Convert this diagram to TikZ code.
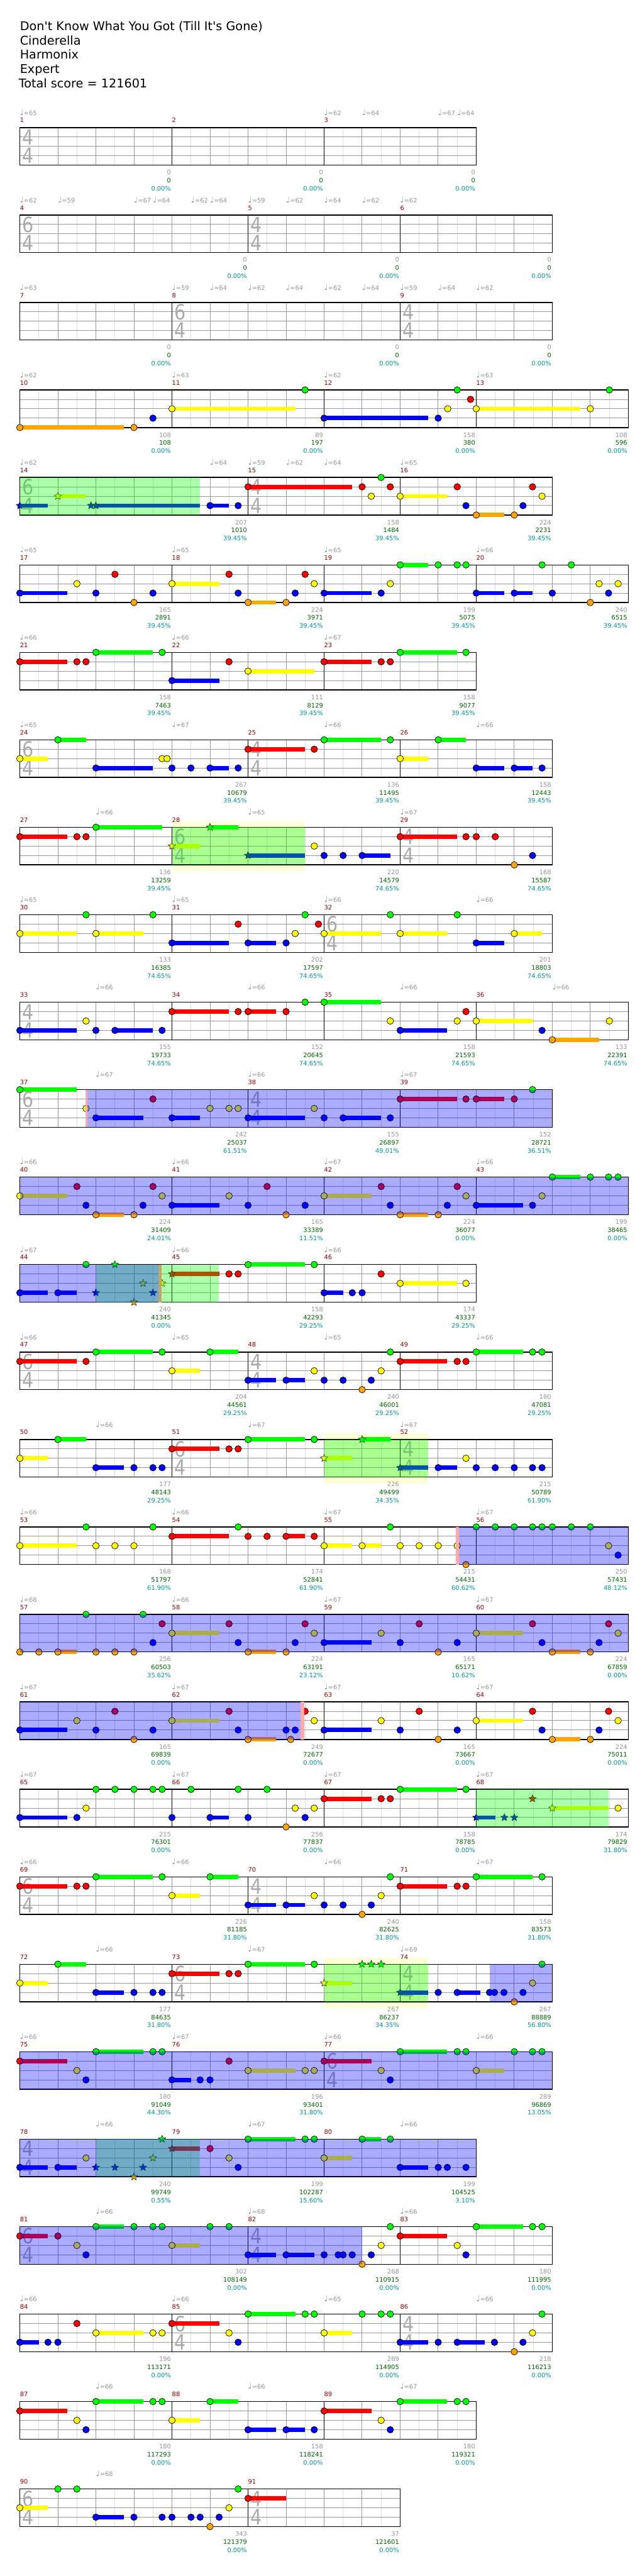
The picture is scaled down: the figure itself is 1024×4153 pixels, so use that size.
\documentclass[tikz,border=0pt]{standalone}
\usepackage{fontspec}
\setmainfont{DejaVu Sans}
\newfontfamily\dvs{DejaVu Sans}
\usetikzlibrary{shapes.geometric}
\definecolor{lane0}{RGB}{0,255,0}
\definecolor{lane1}{RGB}{255,0,0}
\definecolor{lane2}{RGB}{255,255,0}
\definecolor{lane3}{RGB}{0,0,255}
\definecolor{lane4}{RGB}{255,165,0}
\definecolor{halfc}{RGB}{221,221,221}
\definecolor{beatc}{RGB}{153,153,153}
\definecolor{tsgrey}{RGB}{170,170,170}
\definecolor{tempoc}{RGB}{150,150,150}
\definecolor{mred}{RGB}{150,0,0}
\definecolor{scgrey}{RGB}{150,150,150}
\definecolor{scgreen}{RGB}{0,100,0}
\definecolor{scteal}{RGB}{0,150,150}
\definecolor{paleyc}{RGB}{255,255,215}
\definecolor{pinkc}{RGB}{255,170,170}
\definecolor{tanc}{RGB}{200,162,105}
\tikzset{
  halfline/.style={draw=halfc,line width=1pt},
  beatline/.style={draw=beatc,line width=1pt},
  measline/.style={draw=black,line width=1pt},
  border/.style={draw=black,line width=1.4pt},
  notec/.style={draw=black,line width=0.7pt},
  starn/.style={star,star points=5,star point ratio=2.2,minimum size=12.5pt,inner sep=0pt,draw=black,line width=0.5pt},
  mnum/.style={anchor=base west,inner sep=0pt,text=mred,font=\dvs\fontsize{10}{10}\selectfont},
  tmp/.style={anchor=base west,inner sep=0pt,text=tempoc,font=\dvs\fontsize{10}{10}\selectfont},
  sca/.style={anchor=base east,inner sep=0pt,text=scgrey,font=\dvs\fontsize{10}{10}\selectfont},
  scb/.style={anchor=base east,inner sep=0pt,text=scgreen,font=\dvs\fontsize{10}{10}\selectfont},
  scc/.style={anchor=base east,inner sep=0pt,text=scteal,font=\dvs\fontsize{10}{10}\selectfont},
  tsd/.style={anchor=center,inner sep=0pt,text=tsgrey,font=\dvs\fontsize{34}{34}\selectfont},
  hdr/.style={anchor=base west,inner sep=0pt,font=\dvs\fontsize{19.5}{23}\selectfont}
}
\newcommand{\X}[1]{32+61.33333*(#1)}
\newcommand{\setrow}[1]{\pgfmathsetmacro{\T}{205.7+141*(#1-1)}}
\newcommand{\mystaff}[2]{%
  \pgfmathtruncatemacro{\nh}{2*#1-1}%
  \foreach \i in {1,...,\nh}{\draw[halfline] ({32+30.666667*\i},\T) -- ({32+30.666667*\i},{\T+60.6});}%
  \pgfmathtruncatemacro{\nb}{#1-1}%
  \foreach \i in {1,...,\nb}{\draw[beatline] ({\X{\i}},\T) -- ({\X{\i}},{\T+60.6});}%
  \foreach \l in {1,2,3}{\draw[beatline] (32,{\T+15.15*\l}) -- ({\X{#1}},{\T+15.15*\l});}%
  \foreach \m in {#2}{\draw[measline] ({\X{\m}},\T) -- ({\X{\m}},{\T+60.6});}%
  \draw[border] (32,\T) rectangle ({\X{#1}},{\T+60.6});%
}
\newcommand{\mytsig}[3]{%
  \node[tsd] at ({\X{#1}+13.5},{\T+15.5}) {\scalebox{0.85}[1]{#2}};%
  \node[tsd] at ({\X{#1}+13.5},{\T+45.3}) {\scalebox{0.85}[1]{#3}};%
}
\newcommand{\mynotes}[1]{%
  \foreach \b/\l/\e in {#1}{\pgfmathtruncatemacro{\hs}{\e>\b}\ifnum\hs=1 \fill[lane\l] ({\X{\b}},{\T+15.15*\l-3.5}) rectangle ({\X{\e}},{\T+15.15*\l+3.5});\fi}%
  \foreach \b/\l/\e in {#1}{\draw[notec,fill=lane\l] ({\X{\b}},{\T+15.15*\l}) circle[radius=5.3pt];}%
}
\newcommand{\mystars}[1]{%
  \foreach \b/\l/\e in {#1}{\pgfmathtruncatemacro{\hs}{\e>\b}\ifnum\hs=1 \fill[lane\l] ({\X{\b}},{\T+15.15*\l-3.5}) rectangle ({\X{\e}},{\T+15.15*\l+3.5});\fi}%
  \foreach \b/\l/\e in {#1}{\node[starn,fill=lane\l] at ({\X{\b}},{\T+15.15*\l}) {};}%
}
\newcommand{\ovb}[2]{\fill[blue,opacity=0.33] ({\X{#1}},\T) rectangle ({\X{#2}},{\T+60.6});}
\newcommand{\ovg}[2]{\fill[green,opacity=0.33] ({\X{#1}},\T) rectangle ({\X{#2}},{\T+60.6});}
\newcommand{\paley}[2]{\fill[paleyc] ({\X{#1}},{\T-10}) rectangle ({\X{#2}},{\T+70.6});}
\newcommand{\pinkb}[2]{\fill[pinkc] ({\X{#1}},\T) rectangle ({\X{#2}},{\T+60.6});}
\newcommand{\tanb}[2]{\fill[tanc] ({\X{#1}},\T) rectangle ({\X{#2}},{\T+60.6});}
\newcommand{\mytempo}[1]{\foreach \p/\v in {#1}{\node[tmp] at ({\X{\p}},{\T-20}) {{\fontsize{13}{13}\selectfont ♩}=\v};}}
\newcommand{\mymeas}[6]{%
  \node[mnum] at ({\X{#1}},{\T-8}) {#3};%
  \node[sca] at ({\X{#2}-1.5},{\T+76}) {#4};%
  \node[scb] at ({\X{#2}-1.5},{\T+89}) {#5};%
  \node[scc] at ({\X{#2}-1.5},{\T+102}) {#6};%
}
\begin{document}
\begin{tikzpicture}[x=1pt,y=-1pt]
\useasboundingbox (0,0) rectangle (1024,4153);
\fill[white] (0,0) rectangle (1024,4153);
\node[hdr] (t1) at (32,49.3) {Don't Know What You Got (Till It's Gone)};
\node[hdr] (t2) at (32,72.3) {Cinderella};
\node[hdr] (t3) at (32,95.3) {Harmonix};
\node[hdr] (t4) at (32,118.3) {Expert};
\node[hdr] (t5) at (30,141.3) {Total score = 121601};
% ---- row 1
\setrow{1}
\mystaff{12}{4,8}
\mytsig{0}{4}{4}
\mytempo{0/65,8/62,9/64,11/67,11.5/64}
\mymeas{0}{4}{1}{0}{0}{0.00\%}
\mymeas{4}{8}{2}{0}{0}{0.00\%}
\mymeas{8}{12}{3}{0}{0}{0.00\%}
% ---- row 2
\setrow{2}
\mystaff{14}{6,10}
\mytsig{0}{6}{4}\mytsig{6}{4}{4}
\mytempo{0/62,1/59,3/67,3.5/64,4.5/62,5/64,6/59,7/62,8/64,9/62,10/62}
\mymeas{0}{6}{4}{0}{0}{0.00\%}
\mymeas{6}{10}{5}{0}{0}{0.00\%}
\mymeas{10}{14}{6}{0}{0}{0.00\%}
% ---- row 3
\setrow{3}
\mystaff{14}{4,10}
\mytsig{4}{6}{4}\mytsig{10}{4}{4}
\mytempo{0/63,4/59,5/64,6/62,7/64,8/62,9/64,10/59,11/64,12/62}
\mymeas{0}{4}{7}{0}{0}{0.00\%}
\mymeas{4}{10}{8}{0}{0}{0.00\%}
\mymeas{10}{14}{9}{0}{0}{0.00\%}
% ---- row 4
\setrow{4}
\mystaff{16}{4,8,12}
\mynotes{0/4/2.74,3/4/0,3.5/3/0,4/2/7.24,7.5/0/0,8/3/10.73,11/3/0,11.25/2/0,11.5/0/0,11.85/1/0,12/2/14.73,15/2/0,15.5/0/0}
\mytempo{0/62,4/63,8/62,12/63}
\mymeas{0}{4}{10}{108}{108}{0.00\%}
\mymeas{4}{8}{11}{89}{197}{0.00\%}
\mymeas{8}{12}{12}{158}{380}{0.00\%}
\mymeas{12}{16}{13}{108}{596}{0.00\%}
% ---- row 5
\setrow{5}
\mystaff{14}{6,10}
\mytsig{0}{6}{4}\mytsig{6}{4}{4}
\mystars{0/3/0.74,1/2/1.74,1.87/3/0,2/3/4.74}
\mynotes{5/3/5.5,5.74/3/0,6/1/8.74,9/1/0,9.24/2/0,9.5/0/0,9.74/1/0,10/2/11.24,11.5/1/0,11.73/3/0,12/4/12.73,13/4/0,13.23/3/0,13.48/1/0,13.73/2/0}
\ovg{0}{4.74}
\mytempo{0/62,5/64,6/59,7/62,8/64,10/65}
\mymeas{0}{6}{14}{207}{1010}{39.45\%}
\mymeas{6}{10}{15}{158}{1484}{39.45\%}
\mymeas{10}{14}{16}{224}{2231}{39.45\%}
% ---- row 6
\setrow{6}
\mystaff{16}{4,8,12}
\mynotes{0/3/1.24,1.5/2/0,2/3/0,2.5/1/0,3/4/0,3.5/3/0,4/2/5.24,5.5/1/0,5.74/3/0,6/4/6.74,7/4/0,7.24/3/0,7.5/1/0,7.74/2/0,8/3/9.25,9.5/3/0,9.74/2/0,10/0/10.73,11/0/0,11.5/0/0,11.73/0/0,12/3/12.73,13/3/13.48,13.73/0/0,14/3/0,14.5/0/0,15/4/0,15.23/2/0,15.48/3/0,15.73/2/0}
\mytempo{0/65,4/65,8/65,12/66}
\mymeas{0}{4}{17}{165}{2891}{39.45\%}
\mymeas{4}{8}{18}{224}{3971}{39.45\%}
\mymeas{8}{12}{19}{199}{5075}{39.45\%}
\mymeas{12}{16}{20}{240}{6515}{39.45\%}
% ---- row 7
\setrow{7}
\mystaff{12}{4,8}
\mynotes{0/1/1.24,1.5/1/0,1.74/1/0,2/0/3.5,3.74/0/0,4/3/5.24,5.5/1/0,6/2/7.74,8/1/9.24,9.5/1/0,9.74/1/0,10/0/11.5,11.73/0/0}
\mytempo{0/66,4/66,8/67}
\mymeas{0}{4}{21}{158}{7463}{39.45\%}
\mymeas{4}{8}{22}{111}{8129}{39.45\%}
\mymeas{8}{12}{23}{158}{9077}{39.45\%}
% ---- row 8
\setrow{8}
\mystaff{14}{6,10}
\mytsig{0}{6}{4}\mytsig{6}{4}{4}
\mynotes{0/2/0.74,1/0/1.74,2/3/3.5,3.74/2/0,3.87/2/0,4/3/0,4.5/3/0,5/3/5.5,5.74/3/0,6/1/7.5,7.74/1/0,8/0/9.5,9.74/0/0,10/2/10.73,11/0/11.73,12/3/12.73,13/3/13.48,13.73/3/0}
\mytempo{0/65,4/67,8/66,12/66}
\mymeas{0}{6}{24}{267}{10679}{39.45\%}
\mymeas{6}{10}{25}{136}{11495}{39.45\%}
\mymeas{10}{14}{26}{158}{12443}{39.45\%}
% ---- row 9
\setrow{9}
\paley{4}{7.5}
\mystaff{14}{4,10}
\mytsig{4}{6}{4}\mytsig{10}{4}{4}
\mystars{4/2/4.74,5/0/5.74,6/3/7.5}
\mynotes{0/1/1.24,1.5/1/0,1.74/1/0,2/0/3.74,7.74/2/0,8/3/0,8.5/3/0,9/3/9.74,10/1/11.5,11.73/1/0,12/1/0,12.5/1/0,13/4/0,13.48/3/0}
\ovg{4}{7.5}
\mytempo{2/66,6/65,10/67}
\mymeas{0}{4}{27}{136}{13259}{39.45\%}
\mymeas{4}{10}{28}{220}{14579}{74.65\%}
\mymeas{10}{14}{29}{168}{15587}{74.65\%}
% ---- row 10
\setrow{10}
\mystaff{14}{4,8}
\mytsig{8}{6}{4}
\mynotes{0/2/1.5,1.74/0/0,2/2/3.24,3.5/0/0,4/3/5.5,5.74/1/0,6/3/6.74,7/3/0,7.24/2/0,7.5/0/0,7.85/1/0,8/2/9.5,9.74/0/0,10/2/11.24,11.5/0/0,12/3/12.73,13/2/13.73}
\mytempo{0/65,4/65,8/66,12/66}
\mymeas{0}{4}{30}{133}{16385}{74.65\%}
\mymeas{4}{8}{31}{202}{17597}{74.65\%}
\mymeas{8}{14}{32}{201}{18803}{74.65\%}
% ---- row 11
\setrow{11}
\mystaff{16}{4,8,12}
\mytsig{0}{4}{4}
\mynotes{0/3/1.5,1.74/2/0,2/3/0,2.5/3/3.5,3.74/3/0,4/1/5.5,5.74/1/0,6/1/6.74,7/1/0,7.5/0/0,8/0/9.5,9.74/2/0,10/3/11.24,11.5/2/0,11.73/1/0,12/2/13.48,13.73/3/0,14/4/15.23,15.5/2/0}
\mytempo{2/66,6/66,10/66,14/66}
\mymeas{0}{4}{33}{155}{19733}{74.65\%}
\mymeas{4}{8}{34}{152}{20645}{74.65\%}
\mymeas{8}{12}{35}{158}{21593}{74.65\%}
\mymeas{12}{16}{36}{133}{22391}{74.65\%}
% ---- row 12
\setrow{12}
\mystaff{14}{6,10}
\mytsig{0}{6}{4}\mytsig{6}{4}{4}
\mynotes{0/0/1.5,1.74/2/0,2/3/3.24,3.5/1/0,4/3/4.74,5/2/0,5.5/2/0,5.74/2/0,6/3/7.5,7.74/2/0,8/3/0,8.5/3/9.5,9.74/3/0,10/1/11.5,11.73/1/0,12/1/12.73,13/1/0,13.48/0/0}
\pinkb{1.72}{1.77}
\ovb{1.77}{14}
\mytempo{2/67,6/66,10/67}
\mymeas{0}{6}{37}{242}{25037}{61.51\%}
\mymeas{6}{10}{38}{155}{26897}{49.01\%}
\mymeas{10}{14}{39}{152}{28721}{36.51\%}
% ---- row 13
\setrow{13}
\mystaff{16}{4,8,12}
\mynotes{0/2/1.24,1.5/1/0,1.74/3/0,2/4/2.74,3/4/0,3.24/3/0,3.5/1/0,3.74/2/0,4/3/5.24,5.5/2/0,6/3/0,6.5/1/0,7/4/0,7.5/3/0,8/2/9.24,9.5/1/0,9.74/3/0,10/4/10.73,11/4/0,11.24/3/0,11.5/1/0,11.73/2/0,12/3/13.24,13.48/3/0,13.73/2/0,14/0/14.73,15/0/0,15.48/0/0,15.73/0/0}
\ovb{0}{16}
\mytempo{0/66,4/66,8/67,12/66}
\mymeas{0}{4}{40}{224}{31409}{24.01\%}
\mymeas{4}{8}{41}{165}{33389}{11.51\%}
\mymeas{8}{12}{42}{224}{36077}{0.00\%}
\mymeas{12}{16}{43}{199}{38465}{0.00\%}
% ---- row 14
\setrow{14}
\mystaff{12}{4,8}
\mystars{2/3/0,2.5/0/0,3/4/0,3.24/2/0,3.5/3/0,3.74/2/0,4/1/5.24}
\mynotes{0/3/0.74,1/3/1.5,1.74/0/0,5.5/1/0,5.74/1/0,6/0/7.5,7.74/0/0,8/3/8.5,8.74/3/0,9/3/0,9.5/1/0,10/2/11.5,11.73/2/0}
\ovg{2}{5.23}
\ovb{0}{3.65}
\tanb{3.65}{3.72}
\mytempo{0/67,4/66,8/66}
\mymeas{0}{4}{44}{240}{41345}{0.00\%}
\mymeas{4}{8}{45}{158}{42293}{29.25\%}
\mymeas{8}{12}{46}{174}{43337}{29.25\%}
% ---- row 15
\setrow{15}
\mystaff{14}{6,10}
\mytsig{0}{6}{4}\mytsig{6}{4}{4}
\mynotes{0/1/1.5,1.74/1/0,2/0/3.5,3.74/0/0,4/2/4.74,5/0/5.74,6/3/6.74,7/3/7.5,7.74/2/0,8/3/0,8.5/3/0,9/4/0,9.24/3/0,9.5/2/0,9.74/0/0,10/1/11.24,11.5/1/0,11.73/1/0,12/0/13.24,13.48/0/0,13.73/0/0}
\mytempo{0/66,4/65,8/65,12/66}
\mymeas{0}{6}{47}{204}{44561}{29.25\%}
\mymeas{6}{10}{48}{240}{46001}{29.25\%}
\mymeas{10}{14}{49}{180}{47081}{29.25\%}
% ---- row 16
\setrow{16}
\paley{8}{10.73}
\mystaff{14}{4,10}
\mytsig{4}{6}{4}\mytsig{10}{4}{4}
\mystars{8/2/8.74,9/0/9.74,10/3/10.73}
\mynotes{0/2/0.74,1/0/1.74,2/3/2.74,3/3/0,3.5/3/0,3.74/3/0,4/1/5.24,5.5/1/0,5.74/1/0,6/0/7.5,7.74/0/0,11/3/11.5,11.73/2/0,12/3/0,12.5/3/0,13/3/0,13.48/3/0,13.73/3/0}
\ovg{8}{10.73}
\mytempo{2/66,6/67,10/67}
\mymeas{0}{4}{50}{177}{48143}{29.25\%}
\mymeas{4}{10}{51}{226}{49499}{34.35\%}
\mymeas{10}{14}{52}{215}{50789}{61.90\%}
% ---- row 17
\setrow{17}
\mystaff{16}{4,8,12}
\mynotes{0/2/1.5,1.74/0/0,2/2/0,2.5/2/0,3/2/0,3.5/0/0,4/1/5.5,5.74/0/0,6/1/0,6.5/1/0,7/1/7.5,7.74/1/0,8/2/8.74,9/2/9.5,9.74/0/0,10/2/0,10.5/2/0,11/2/0,11.5/2/0,11.73/4/0,12/0/0,12.5/0/0,13/0/0,13.48/0/0,13.73/0/0,14/0/0,14.5/0/0,15/0/0,15.48/2/0,15.73/3/0}
\pinkb{11.46}{11.54}
\ovb{11.54}{16}
\mytempo{0/66,4/66,8/67,12/67}
\mymeas{0}{4}{53}{168}{51797}{61.90\%}
\mymeas{4}{8}{54}{174}{52841}{61.90\%}
\mymeas{8}{12}{55}{215}{54431}{60.62\%}
\mymeas{12}{16}{56}{250}{57431}{48.12\%}
% ---- row 18
\setrow{18}
\mystaff{16}{4,8,12}
\mynotes{0/4/0,0.5/4/0,1/4/1.5,1.74/0/0,2/4/0,2.5/4/0,3/4/0,3.24/0/0,3.5/3/0,3.74/1/0,4/2/5.24,5.5/1/0,5.74/3/0,6/4/6.74,7/4/0,7.24/3/0,7.5/1/0,7.74/2/0,8/3/9.24,9.5/2/0,10/3/0,10.5/1/0,11/4/0,11.5/3/0,12/2/13.24,13.48/1/0,13.73/3/0,14/4/14.73,15/4/0,15.23/3/0,15.48/1/0,15.73/2/0}
\ovb{0}{16}
\mytempo{0/68,4/66,8/67,12/67}
\mymeas{0}{4}{57}{256}{60503}{35.62\%}
\mymeas{4}{8}{58}{224}{63191}{23.12\%}
\mymeas{8}{12}{59}{165}{65171}{10.62\%}
\mymeas{12}{16}{60}{224}{67859}{0.00\%}
% ---- row 19
\setrow{19}
\mystaff{16}{4,8,12}
\mynotes{0/3/1.24,1.5/2/0,2/3/0,2.5/1/0,3/4/0,3.5/3/0,4/2/5.24,5.5/1/0,5.74/3/0,6/4/6.74,7/3/0,7.12/4/0,7.24/3/0,7.5/1/0,7.74/2/0,8/3/9.24,9.5/2/0,10/3/0,10.5/1/0,11/4/0,11.5/3/0,12/2/13.24,13.48/1/0,13.73/3/0,14/4/14.73,15/4/0,15.23/3/0,15.48/1/0,15.73/2/0}
\ovb{0}{7.38}
\pinkb{7.38}{7.48}
\mytempo{0/67,4/67,8/67,12/67}
\mymeas{0}{4}{61}{165}{69839}{0.00\%}
\mymeas{4}{8}{62}{249}{72677}{0.00\%}
\mymeas{8}{12}{63}{165}{73667}{0.00\%}
\mymeas{12}{16}{64}{224}{75011}{0.00\%}
% ---- row 20
\setrow{20}
\mystaff{16}{4,8,12}
\mystars{12/3/12.5,12.74/3/0,13/3/0,13.48/1/0,14/2/15.48}
\mynotes{0/3/1.24,1.5/3/0,1.74/2/0,2/0/0,2.5/0/0,3/0/0,3.5/0/0,3.74/0/0,4/3/0,4.5/0/0,5/3/5.5,5.74/0/0,6/3/0,6.5/0/0,7/4/0,7.24/2/0,7.5/3/0,7.74/2/0,8/1/9.24,9.5/1/0,9.74/1/0,10/0/11.5,11.73/0/0,15.73/2/0}
\ovg{12}{15.48}
\mytempo{0/67,4/67,8/67,12/67}
\mymeas{0}{4}{65}{215}{76301}{0.00\%}
\mymeas{4}{8}{66}{256}{77837}{0.00\%}
\mymeas{8}{12}{67}{158}{78785}{0.00\%}
\mymeas{12}{16}{68}{174}{79829}{31.80\%}
% ---- row 21
\setrow{21}
\mystaff{14}{6,10}
\mytsig{0}{6}{4}\mytsig{6}{4}{4}
\mynotes{0/1/1.24,1.5/1/0,1.74/1/0,2/0/3.5,3.74/0/0,4/2/4.74,5/0/5.74,6/3/6.74,7/3/7.5,7.74/2/0,8/3/0,8.5/3/0,9/4/0,9.24/3/0,9.5/2/0,9.74/0/0,10/1/11.24,11.5/1/0,11.73/1/0,12/0/13.48,13.73/0/0}
\mytempo{0/66,4/66,8/66,12/67}
\mymeas{0}{6}{69}{226}{81185}{31.80\%}
\mymeas{6}{10}{70}{240}{82625}{31.80\%}
\mymeas{10}{14}{71}{158}{83573}{31.80\%}
% ---- row 22
\setrow{22}
\paley{8}{10.73}
\mystaff{14}{4,10}
\mytsig{4}{6}{4}\mytsig{10}{4}{4}
\mystars{8/2/8.74,9/0/0,9.24/0/0,9.5/0/0,10/3/10.73}
\mynotes{0/2/0.74,1/0/1.74,2/3/2.74,3/3/0,3.5/3/0,3.74/3/0,4/1/5.24,5.5/1/0,5.74/1/0,6/0/7.5,7.74/0/0,11/3/0,11.5/3/12.1,12.35/3/0,12.48/3/0,12.73/3/0,13/4/0,13.23/3/0,13.48/2/0,13.73/0/0}
\ovg{8}{10.73}
\ovb{12.35}{14}
\mytempo{2/66,6/67,10/69}
\mymeas{0}{4}{72}{177}{84635}{31.80\%}
\mymeas{4}{10}{73}{267}{86237}{34.35\%}
\mymeas{10}{14}{74}{267}{88889}{56.80\%}
% ---- row 23
\setrow{23}
\mystaff{14}{4,8}
\mytsig{8}{6}{4}
\mynotes{0/1/1.24,1.5/2/0,1.74/3/0,2/0/3.24,3.5/0/0,3.74/0/0,4/3/4.5,4.74/3/0,5/3/0,5.5/1/0,6/2/7.24,7.5/2/0,7.74/2/0,8/1/9.24,9.5/2/0,9.74/3/0,10/0/11.24,11.5/0/0,11.73/0/0,12/2/12.73,13/0/0,13.48/0/0,13.73/0/0}
\ovb{0}{14}
\mytempo{0/66,4/67,8/66,12/66}
\mymeas{0}{4}{75}{180}{91049}{44.30\%}
\mymeas{4}{8}{76}{196}{93401}{31.80\%}
\mymeas{8}{14}{77}{289}{96869}{13.05\%}
% ---- row 24
\setrow{24}
\mystaff{12}{4,8}
\mytsig{0}{4}{4}
\mystars{2/3/0,2.5/3/0,3/4/0,3.24/3/0,3.5/2/0,3.74/0/0,4/1/4.74}
\mynotes{0/3/0.74,1/3/1.5,1.74/2/0,5/1/0,5.5/2/0,5.74/3/0,6/0/7.24,7.5/0/0,7.74/0/0,8/2/8.74,9/0/9.5,9.74/0/0,10/3/10.73,11/3/0,11.24/3/0,11.73/3/0}
\ovg{2}{4.74}
\ovb{0}{12}
\mytempo{2/66,6/67,10/66}
\mymeas{0}{4}{78}{240}{99749}{0.55\%}
\mymeas{4}{8}{79}{199}{102287}{15.60\%}
\mymeas{8}{12}{80}{199}{104525}{3.10\%}
% ---- row 25
\setrow{25}
\mystaff{14}{6,10}
\mytsig{0}{6}{4}\mytsig{6}{4}{4}
\mynotes{0/1/0.74,1/1/0,1.5/2/0,1.74/3/0,2/0/2.74,3/0/0,3.5/0/0,3.74/0/0,4/2/4.74,5/0/0,5.5/0/0,6/3/6.74,7/3/7.74,8/3/0,8.37/3/0,8.5/3/0,8.74/3/0,9/4/0,9.24/3/0,9.5/2/0,9.74/0/0,10/1/11.24,11.5/2/0,11.73/3/0,12/0/13.24,13.48/0/0,13.73/0/0}
\ovb{0}{9}
\mytempo{2/66,6/68,10/66}
\mymeas{0}{6}{81}{302}{108149}{0.00\%}
\mymeas{6}{10}{82}{268}{110915}{0.00\%}
\mymeas{10}{14}{83}{180}{111995}{0.00\%}
% ---- row 26
\setrow{26}
\mystaff{14}{4,10}
\mytsig{4}{6}{4}\mytsig{10}{4}{4}
\mynotes{0/3/0.5,0.74/3/0,1/3/0,1.5/1/0,2/2/3.24,3.5/2/0,3.74/2/0,4/1/5.24,5.5/2/0,5.74/3/0,6/0/7.24,7.5/0/0,7.74/0/0,8/2/8.74,9/0/0,9.5/0/0,9.74/0/0,10/3/10.73,11/3/0,11.5/3/12.23,12.48/3/0,13/4/0,13.23/3/0,13.48/2/0,13.73/0/0}
\mytempo{0/66,4/66,8/65,12/66}
\mymeas{0}{4}{84}{196}{113171}{0.00\%}
\mymeas{4}{10}{85}{289}{114905}{0.00\%}
\mymeas{10}{14}{86}{218}{116213}{0.00\%}
% ---- row 27
\setrow{27}
\mystaff{12}{4,8}
\mynotes{0/1/1.24,1.5/2/0,1.74/3/0,2/0/3.24,3.5/0/0,3.74/0/0,4/2/4.74,5/0/5.74,6/3/6.74,7/3/7.5,7.74/3/0,8/1/9.24,9.5/2/0,9.74/3/0,10/0/11.24,11.5/0/0,11.73/0/0}
\mytempo{2/66,6/66,10/67}
\mymeas{0}{4}{87}{180}{117293}{0.00\%}
\mymeas{4}{8}{88}{158}{118241}{0.00\%}
\mymeas{8}{12}{89}{180}{119321}{0.00\%}
% ---- row 28
\setrow{28}
\mystaff{10}{6}
\mytsig{0}{6}{4}\mytsig{6}{4}{4}
\mynotes{0/2/0.74,1/0/0,1.5/0/0,2/3/2.74,3/3/0,3.74/3/0,4/3/0,4.5/3/0,4.74/3/0,5/4/0,5.24/3/0,5.5/2/0,5.74/0/0,6/1/7}
\mytempo{2/68}
\mymeas{0}{6}{90}{343}{121379}{0.00\%}
\mymeas{6}{10}{91}{37}{121601}{0.00\%}
\end{tikzpicture}
\end{document}
